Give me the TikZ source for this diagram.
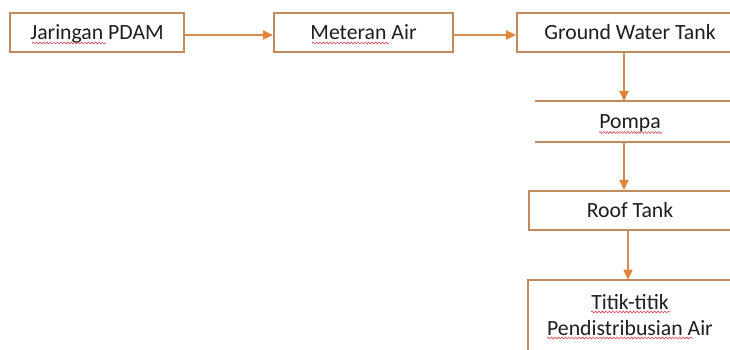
\documentclass[tikz,border=0pt]{standalone}
\usepackage{fontspec}
\setmainfont{Carlito}
\usetikzlibrary{arrows.meta,decorations.pathmorphing}

\definecolor{boxline}{RGB}{192,138,94}
\definecolor{arrowline}{RGB}{212,140,82}
\definecolor{arrowhead}{RGB}{226,132,60}
\definecolor{inktext}{RGB}{30,30,30}
\definecolor{spellred}{RGB}{214,70,80}

\tikzset{
  flowbox/.style={draw=boxline, line width=1.6pt, fill=white, text=inktext,
    inner sep=0pt, font=\fontsize{16.3}{19.4}\selectfont,
    text height=10.4pt, text depth=0pt},
  openbox/.style={flowbox, draw=none},
  tallbox/.style={fill=white, text=inktext,
    inner sep=0pt, align=center, font=\fontsize{16.3}{19.4}\selectfont},
  boxedge/.style={draw=boxline, line width=1.6pt, line join=miter},
  flow/.style={draw=arrowline, line width=0.9pt,
    -{Triangle[length=7.5pt,width=7pt,color=arrowhead,fill=arrowhead]}},
  spelling/.style={draw=spellred, line width=0.45pt,
    decorate, decoration={snake, amplitude=0.7pt, segment length=2.6pt}}
}

\begin{document}
\begin{tikzpicture}[x=0.75pt,y=-0.75pt]
  \useasboundingbox (0,0) rectangle (730,349);
  \clip (0,0) rectangle (730,349);

  % top row
  \node[flowbox, minimum width=174*0.75pt, minimum height=39*0.75pt] (pdam) at (97,32.5) {Jaringan PDAM};
  \node[flowbox, minimum width=179*0.75pt, minimum height=39*0.75pt] (meter) at (363.5,32.5) {Meteran Air};
  \node[flowbox, minimum width=226*0.75pt, minimum height=39*0.75pt] (gwt) at (630,32.5) {Ground Water Tank};

  % pump: only its upper and lower edges are ruled
  \node[openbox, minimum width=188*0.75pt, minimum height=39*0.75pt] (pompa) at (630,121.5) {Pompa};
  \draw[boxedge] (pompa.north west) -- ++(200,0);
  \draw[boxedge] (pompa.south west) -- ++(200,0);

  \node[flowbox, minimum width=202*0.75pt, minimum height=39*0.75pt] (roof) at (630,210.5) {Roof Tank};

  % distribution points: the frame runs on below the lower edge of the sheet
  \node[tallbox, minimum width=204*0.75pt, minimum height=70*0.75pt] (titik) at (630,315)
    {Titik-titik\\[0.6pt]Pendistribusian Air};
  \draw[boxedge] ([yshift=-8pt]titik.south west) -- (titik.north west)
    -- (titik.north east) -- ([yshift=-8pt]titik.south east);

  % flow connectors
  \draw[flow] ([yshift=-1.9pt]pdam.east) -- ([yshift=-1.9pt]meter.west);
  \draw[flow] ([yshift=-1.9pt]meter.east) -- ([yshift=-1.9pt]gwt.west);
  \draw[flow] ([xshift=-4.5pt]gwt.south) -- ([xshift=-4.5pt]pompa.north);
  \draw[flow] ([xshift=-4.5pt]pompa.south) -- ([xshift=-4.5pt]roof.north);
  \draw[flow] ([xshift=-1.5pt]roof.south) -- ([xshift=-1.5pt]titik.north);

  % spell-check underlines
  \draw[spelling] (32,43) -- (106,43);
  \draw[spelling] (312,43) -- (389,43);
  \draw[spelling] (599,132.5) -- (662,132.5);
  \draw[spelling] (591,312) -- (670,312);
  \draw[spelling] (547,338) -- (693,338);
\end{tikzpicture}
\end{document}
